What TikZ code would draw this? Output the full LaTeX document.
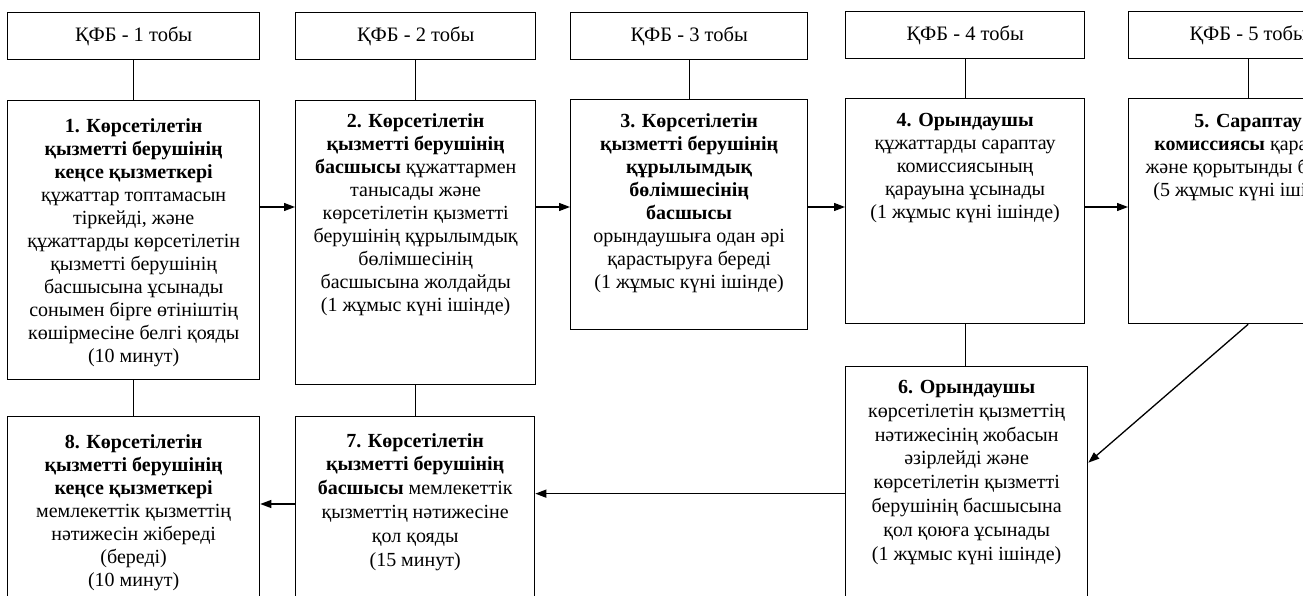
\documentclass[tikz,border=0pt]{standalone}
\usepackage{fontspec}
\setmainfont{Liberation Serif}
\usetikzlibrary{arrows.meta,calc}
\begin{document}
\begin{tikzpicture}[x=1pt,y=-1pt,
  every node/.style={inner sep=0pt},
  hdr/.style={draw, line width=1.3pt, anchor=north west, minimum height=47pt, font=\fontsize{20.5}{23}\selectfont},
  box/.style={draw, line width=1.3pt, anchor=north west},
  txt/.style={anchor=north, align=center, font=\fontsize{20}{23}\selectfont},
  wide/.style={font=\fontsize{20}{23.8}\selectfont},
  link/.style={line width=1.3pt},
  arr/.style={line width=1.3pt, -{Triangle[length=11pt,width=8pt]}}]
\useasboundingbox (0,0) rectangle (1303,596);
\clip (0,0) rectangle (1303,596);
% headers
\node[hdr, minimum width=252pt] (h1) at (7,12) {ҚФБ - 1 тобы};
\node[hdr, minimum width=240pt] (h2) at (295,12) {ҚФБ - 2 тобы};
\node[hdr, minimum width=237pt] (h3) at (570,12) {ҚФБ - 3 тобы};
\node[hdr, minimum width=239pt] (h4) at (845,11) {ҚФБ - 4 тобы};
\node[hdr, minimum width=239pt] (h5) at (1128,11) {ҚФБ - 5 тобы};
% boxes
\node[box, minimum width=252pt, minimum height=279pt] (b1) at (7,100) {};
\node[box, minimum width=240pt, minimum height=284pt] (b2) at (295,100) {};
\node[box, minimum width=237pt, minimum height=230pt] (b3) at (570,99) {};
\node[box, minimum width=239pt, minimum height=225pt] (b4) at (845,98) {};
\node[box, minimum width=239pt, minimum height=225pt] (b5) at (1128,98) {};
\node[box, minimum width=242pt, minimum height=254pt] (b6) at (845,366) {};
\node[box, minimum width=239pt, minimum height=200pt] (b7) at (295,416) {};
\node[box, minimum width=252pt, minimum height=200pt] (b8) at (7,416) {};
% texts
\node[txt] (t1) at ([yshift=-18pt]b1.north) {\textbf{1. Көрсетілетін}\\\textbf{қызметті берушінің}\\\textbf{кеңсе қызметкері}\\құжаттар топтамасын\\тіркейді, және\\құжаттарды көрсетілетін\\қызметті берушінің\\басшысына ұсынады\\сонымен бірге өтініштің\\көшірмесіне белгі қояды\\(10 минут)};
\node[txt] (t2) at ([yshift=-13pt]b2.north) {\textbf{2. Көрсетілетін}\\\textbf{қызметті берушінің}\\\textbf{басшысы} құжаттармен\\танысады және\\көрсетілетін қызметті\\берушінің құрылымдық\\бөлімшесінің\\басшысына жолдайды\\(1 жұмыс күні ішінде)};
\node[txt] (t3) at ([yshift=-14pt]b3.north) {\textbf{3. Көрсетілетін}\\\textbf{қызметті берушінің}\\\textbf{құрылымдық}\\\textbf{бөлімшесінің}\\\textbf{басшысы}\\орындаушыға одан әрі\\қарастыруға береді\\(1 жұмыс күні ішінде)};
\node[txt] (t4) at ([yshift=-15pt]b4.north) {\textbf{4. Орындаушы}\\құжаттарды сараптау\\комиссиясының\\қарауына ұсынады\\(1 жұмыс күні ішінде)};
\node[txt] (t5) at ([yshift=-16pt]b5.north) {\textbf{5. Сараптау}\\\textbf{комиссиясы} қарайды\\және қорытынды береді\\(5 жұмыс күні ішінде)};
\node[txt, wide] (t6) at ([yshift=-14pt]b6.north) {\textbf{6. Орындаушы}\\көрсетілетін қызметтің\\нәтижесінің жобасын\\әзірлейді және\\көрсетілетін қызметті\\берушінің басшысына\\қол қоюға ұсынады\\(1 жұмыс күні ішінде)};
\node[txt, wide] (t7) at ([yshift=-17pt]b7.north) {\textbf{7. Көрсетілетін}\\\textbf{қызметті берушінің}\\\textbf{басшысы} мемлекеттік\\қызметтің нәтижесіне\\қол қояды\\(15 минут)};
\node[txt] (t8) at ([yshift=-18pt]b8.north) {\textbf{8. Көрсетілетін}\\\textbf{қызметті берушінің}\\\textbf{кеңсе қызметкері}\\мемлекеттік қызметтің\\нәтижесін жібереді\\(береді)\\(10 минут)};
% header links
\draw[link] (h1) -- (b1);
\draw[link] (h2) -- (b2);
\draw[link] (h3) -- (b3);
\draw[link] (h4) -- (b4);
\draw[link] (h5) -- (b5);
% vertical links
\draw[link] (b1) -- (b8);
\draw[link] (b2.south) -- (b2.south |- b7.north);
\draw[link] (b4.south) -- (b4.south |- b6.north);
% arrows
\coordinate (ya) at (0,207);
\coordinate (yb) at (0,504);
\draw[arr] (b1.east |- ya) -- (b2.west |- ya);
\draw[arr] (b2.east |- ya) -- (b3.west |- ya);
\draw[arr] (b3.east |- ya) -- (b4.west |- ya);
\draw[arr] (b4.east |- ya) -- (b5.west |- ya);
\draw[arr] (b5.south) -- ([yshift=31pt]b6.east);
\draw[arr] (b6.west) -- (b7.east |- b6.west);
\draw[arr] (b7.west |- yb) -- (b8.east |- yb);
\end{tikzpicture}
\end{document}
